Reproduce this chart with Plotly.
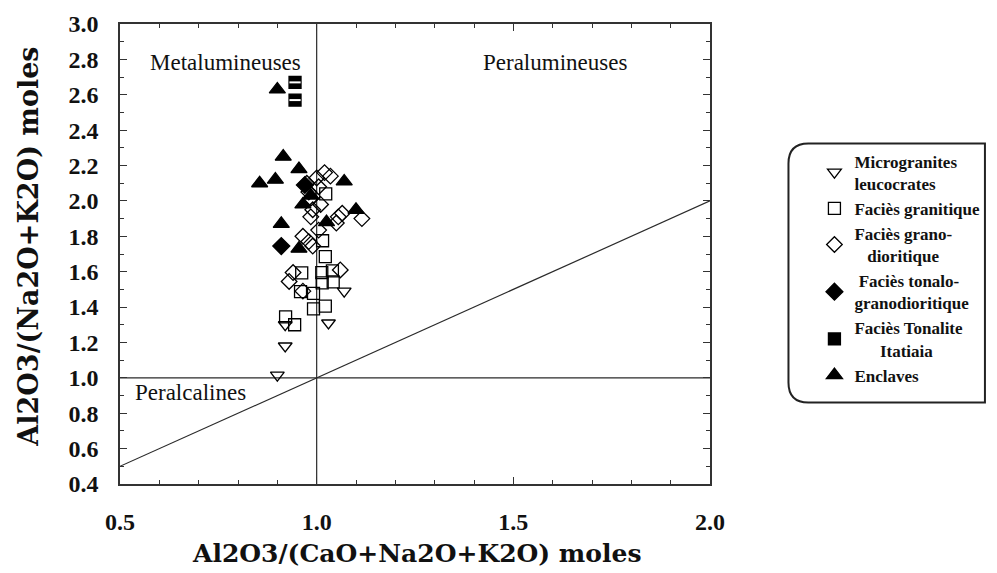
import plotly.graph_objects as go

# ---- data ----
micro_x = [1.07, 1.03, 0.92, 0.92, 0.90]
micro_y = [1.49, 1.31, 1.30, 1.18, 1.015]

gran_x = [1.023, 1.015, 1.022, 1.013, 1.04, 0.962, 1.014, 1.042, 0.959, 0.992, 0.992, 1.022, 0.921, 0.944]
gran_y = [2.04, 1.775, 1.685, 1.595, 1.605, 1.593, 1.537, 1.543, 1.487, 1.477, 1.39, 1.405, 1.345, 1.30]

grano_x = [1.02, 1.035, 1.00, 0.975, 1.005, 0.98, 0.985, 1.01, 0.99, 0.985, 1.055, 1.065, 1.115, 1.05,
           1.005, 0.965, 0.98, 0.99, 1.06, 0.94, 0.93, 0.965]
grano_y = [2.16, 2.14, 2.13, 2.10, 2.08, 2.05, 2.015, 1.98, 1.95, 1.91, 1.91, 1.93, 1.90, 1.875,
           1.835, 1.80, 1.77, 1.745, 1.61, 1.595, 1.545, 1.49]

tonalo_x = [0.91, 0.97]
tonalo_y = [1.745, 2.09]

itat_x = [0.945, 0.945]
itat_y = [2.67, 2.57]

encl_x = [0.90, 0.915, 0.955, 0.855, 0.895, 1.07, 0.985, 0.965, 0.91, 1.025, 1.10, 0.955]
encl_y = [2.63, 2.25, 2.18, 2.10, 2.12, 2.11, 2.03, 1.98, 1.87, 1.88, 1.95, 1.73]

x_ticks = [0.5, 1.0, 1.5, 2.0]
y_ticks = [0.4, 0.6, 0.8, 1.0, 1.2, 1.4, 1.6, 1.8, 2.0, 2.2, 2.4, 2.6, 2.8, 3.0]

serif = "Liberation Serif"
title_font = "DejaVu Serif"

fig = go.Figure()

# reference lines
for lx, ly in [([1.0, 1.0], [0.4, 3.0]), ([0.5, 2.0], [1.0, 1.0]), ([0.5, 2.0], [0.5, 2.0])]:
    fig.add_trace(go.Scatter(x=lx, y=ly, mode="lines",
                             line=dict(color="#2a2a2a", width=1.2), showlegend=False, hoverinfo="skip"))

def add(x, y, name, symbol, size, color="black", lw=1.3):
    fig.add_trace(go.Scatter(
        x=x, y=y, mode="markers", name=name,
        marker=dict(symbol=symbol, size=size, color=color,
                    line=dict(color="black", width=lw)),
    ))

add(micro_x, micro_y, "Microgranites<br>leucocrates", "triangle-down-open", 12)
add(gran_x, gran_y, "Faciès granitique", "square-open", 12)
add(grano_x, grano_y, "Faciès grano-<br>   dioritique", "diamond-open", 12)
add(tonalo_x, tonalo_y, " Faciès tonalo-<br>granodioritique", "diamond", 13)
add(itat_x, itat_y, "Faciès Tonalite<br>      Itatiaia", "square", 12)
# white band on the half-filled squares
fig.add_trace(go.Scatter(x=itat_x, y=itat_y, mode="markers", showlegend=False, hoverinfo="skip",
                         marker=dict(symbol="line-ew", size=8, line=dict(color="white", width=2))))
add(encl_x, encl_y, "Enclaves", "triangle-up", 14)

# region labels
for txt, xx, yy in [("Metalumineuses", 0.768, 2.78), ("Peralumineuses", 1.606, 2.78),
                    ("Peralcalines", 0.68, 0.92)]:
    fig.add_annotation(x=xx, y=yy, text=txt, showarrow=False,
                       font=dict(family=serif, size=23, color="#111"))

# axis titles
fig.add_annotation(xref="paper", yref="paper", x=0.502, y=-0.152, text="Al2O3/(CaO+Na2O+K2O) moles",
                   showarrow=False, xanchor="center", yanchor="middle",
                   font=dict(family=title_font, size=25, color="#111", weight="bold"))
fig.add_annotation(xref="paper", yref="paper", x=-0.155, y=0.515, text="Al2O3/(Na2O+K2O) moles",
                   showarrow=False, xanchor="center", yanchor="middle", textangle=-90,
                   font=dict(family=title_font, size=27, color="#111", weight="bold"))

axis_common = dict(
    showgrid=False, zeroline=False, showline=True, linecolor="#333", linewidth=1.5,
    mirror="allticks", ticks="inside", ticklen=7, tickcolor="#333", tickwidth=1.2,
    tickfont=dict(family=serif, size=24, color="#111", weight="bold"), automargin=False,
)

fig.update_xaxes(range=[0.5, 2.0], tickvals=x_ticks, ticktext=[f"{v:.1f}" for v in x_ticks],
                 minor=dict(dtick=0.1, tick0=0.5, ticks="inside", ticklen=4, tickcolor="#333"),
                 ticklabelstandoff=15, **axis_common)
fig.update_yaxes(range=[0.4, 3.0], tickvals=y_ticks, ticktext=[f"{v:.1f}" for v in y_ticks],
                 minor=dict(dtick=0.1, tick0=0.4, ticks="inside", ticklen=4, tickcolor="#333"),
                 ticklabelstandoff=15, **axis_common)

# rounded border around legend (paper coordinates)
x0, x1, y0, y1 = 1.133, 1.466, 0.177, 0.740
r, ry = 20 / 594, 20 / 460
path = (f"M {x0+r},{y0} L {x1},{y0} L {x1},{y1} L {x0+r},{y1} "
        f"Q {x0},{y1} {x0},{y1-ry} L {x0},{y0+ry} Q {x0},{y0} {x0+r},{y0} Z")
fig.add_shape(type="path", path=path, xref="paper", yref="paper",
              line=dict(color="#222", width=2))

# page body has an 8px margin, so the figure is a bit smaller and shifted
fig.update_layout(
    width=989, height=565,
    margin=dict(l=112, r=283, t=16, b=89),
    plot_bgcolor="white", paper_bgcolor="white",
    legend=dict(x=1.177, y=0.74, xanchor="left", yanchor="top",
                font=dict(family=serif, size=17, color="#111", weight="bold"),
                bgcolor="rgba(0,0,0,0)", itemwidth=30, tracegroupgap=2),
)

fig.write_html("out.html")
